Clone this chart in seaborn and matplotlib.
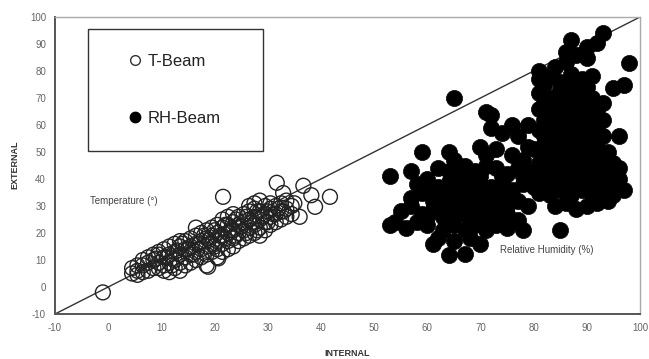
import numpy as np
import pandas as pd
import matplotlib
matplotlib.use("Agg")
import matplotlib.pyplot as plt
from matplotlib.lines import Line2D
import seaborn as sns

# ---------------- data ----------------
t_x = [4.5, 4.5, 5.5, 5.5, 5.5, 6.5, 6.5, 6.5, 7.5, 7.5, 7.5, 8.5, 8.5, 8.5,
       9.5, 9.5, 9.5, 9.5, 10.5, 10.5, 10.5, 10.5, 11.5, 11.5, 11.5, 11.5,
       12.5, 12.5, 12.5, 12.5, 13.5, 13.5, 13.5, 13.5, 13.5, 14.5, 14.5, 14.5, 14.5,
       15.5, 15.5, 15.5, 15.5, 16.5, 16.5, 16.5, 16.5, 16.5, 17.5, 17.5, 17.5, 17.5,
       18.5, 18.5, 18.5, 18.5, 18.5, 19.5, 19.5, 19.5, 19.5,
       20.5, 20.5, 20.5, 20.5, 20.5, 21.5, 21.5, 21.5, 21.5, 21.5,
       22.5, 22.5, 22.5, 22.5, 22.5, 23.5, 23.5, 23.5, 23.5, 23.5,
       24.5, 24.5, 24.5, 24.5, 25.5, 25.5, 25.5, 25.5,
       26.5, 26.5, 26.5, 26.5, 26.5, 27.5, 27.5, 27.5, 27.5, 27.5,
       28.5, 28.5, 28.5, 28.5, 28.5, 29.5, 29.5, 29.5, 29.5,
       30.5, 30.5, 30.5, 30.5, 31.5, 31.5, 31.5, 32.5, 32.5, 32.5,
       33.5, 33.5, 33.5, 34.5, 34.5,
       -1, 31.7, 21.6, 36.7, 38.2, 38.9, 41.7, 36.0, 18.8, 20.7, 32.9, 35.0,
       9, 11, 13, 15, 17, 19, 21, 23, 25, 27, 29, 31, 33,
       12, 16, 20, 22, 24, 26, 28, 30,
       14, 18, 20, 22, 24, 26, 28, 30, 32]
t_y = [5, 7, 6, 8, 4.5, 5.5, 8, 10, 6, 9, 11, 7, 10, 12,
       7, 9, 12, 13, 6, 8, 11, 14, 5.5, 9, 12, 15,
       7, 10, 13, 16, 6, 9, 12, 15, 17, 8, 11, 14, 17,
       9, 12, 15, 18, 10, 13, 16, 19, 22, 11, 14, 17, 20,
       8, 12, 15, 18, 21, 13, 16, 19, 22,
       11, 14, 17, 20, 23, 13, 16, 19, 22, 25,
       14, 17, 20, 23, 26, 15, 18, 21, 24, 27,
       17, 20, 23, 26, 18, 21, 24, 27,
       19, 22, 25, 28, 30, 20, 23, 26, 29, 31,
       19, 22, 25, 28, 32, 21, 24, 27, 30,
       23, 26, 29, 31, 24, 27, 30, 25, 28, 31,
       26, 29, 32, 27, 30,
       -2, 38.6, 33.4, 37.5, 34.0, 29.7, 33.4, 26.0, 7.5, 10.6, 34.8, 31.0,
       10.5, 11, 13.5, 14, 16, 17.5, 19, 21, 22.5, 24, 26, 27, 28,
       8, 12, 15, 18, 19, 20, 21, 24,
       16, 19, 21, 23, 25, 26, 28, 28, 29]

rh_x = [65, 93, 87, 90, 92, 98, 95, 97, 96, 53, 57, 59, 53, 61, 64, 67, 78, 85,
        71, 72, 79, 81, 84, 86,
        72, 74, 77, 76,
        64, 65, 70, 71, 73, 76, 78, 79,
        62, 64, 67, 69, 71, 73, 75, 77, 79,
        58, 60, 62, 64, 66, 68, 70, 72, 74, 76, 78, 80,
        57, 59, 61, 63, 65, 67, 69, 71, 73, 75, 77, 79,
        55, 57, 59, 61, 63, 65, 67, 69, 71, 73, 75, 77,
        54, 56, 58, 60, 63, 65, 67, 69, 71, 73, 75,
        62, 65, 68, 70,
        88, 90, 86,
        81, 83, 85, 87, 89, 91,
        81, 83, 85, 87, 89, 91, 93,
        81, 83, 85, 87, 89, 91, 93,
        81, 83, 85, 87, 89, 91, 93,
        80, 82, 84, 86, 88, 90, 92, 94,
        81, 83, 85, 87, 89, 91, 93, 95,
        80, 82, 84, 86, 88, 90, 92, 94, 96,
        81, 83, 85, 87, 89, 91, 93, 95, 97,
        84, 86, 88, 90, 92, 94,
        82, 86, 88, 90,
        82, 84, 86, 88, 90, 92,
        82, 84, 86, 88, 90, 92,
        82, 84, 86, 88, 90, 92,
        82, 84, 86, 88, 90, 92, 94,
        82, 84, 86, 88, 90, 92, 94, 96,
        82, 84, 86, 88, 90, 92, 94, 96,
        61, 65, 69, 73, 63, 67, 71, 75, 60, 64, 68, 72, 66, 70, 74, 78]
rh_y = [70, 94, 91.5, 89, 90.5, 83, 73.6, 75, 56, 41, 43, 50, 23, 16, 12, 12.2, 21, 21,
        65, 63.7, 60, 80, 81.5, 83.5,
        59, 57, 56, 60,
        50, 47, 52, 49, 51, 49, 47, 52,
        44, 43, 45, 43, 45, 44, 42, 44, 43,
        38, 40, 37, 39, 37, 39, 38, 37, 39, 36, 38, 37,
        33, 35, 32, 34, 32, 34, 31, 33, 31, 33, 32, 30,
        28, 30, 27, 29, 26, 28, 27, 29, 26, 28, 27, 25,
        24, 22, 24, 23, 21, 23, 21, 23, 21, 23, 22,
        18, 17, 18, 16,
        86, 85, 87,
        77, 78, 76, 79, 77, 78,
        72, 70, 73, 71, 72, 70, 68,
        66, 64, 66, 64, 66, 64, 62,
        58, 60, 57, 59, 57, 59, 56,
        51, 53, 51, 53, 51, 53, 51, 50,
        46, 47, 45, 47, 45, 47, 45, 46,
        40, 41, 39, 41, 39, 41, 39, 41, 40,
        35, 34, 36, 34, 36, 34, 36, 34, 36,
        30, 31, 29, 30, 31, 32,
        75, 75, 74, 74,
        68, 68, 69, 68, 67, 66,
        62, 62, 61, 62, 61, 60,
        56, 55, 55, 55, 55, 54,
        49, 48, 49, 48, 49, 48, 47,
        43, 43, 44, 43, 43, 42, 43, 44,
        37, 37, 38, 37, 38, 37, 37, 37,
        35, 35, 35, 35, 30, 30, 30, 30, 26, 25, 25, 25, 41, 41, 41, 41]

x_ticks = list(range(-10, 101, 10))
y_ticks = list(range(-10, 101, 10))
series_names = ["T-Beam", "RH-Beam"]

# ---------------- plot ----------------
sns.set_style("white")
plt.rcParams["font.family"] = ["Liberation Sans", "DejaVu Sans"]
plt.rcParams["axes.unicode_minus"] = False

fig = plt.figure(figsize=(6.49, 3.59), dpi=100)
ax = fig.add_axes([55 / 649, 1 - 314 / 359, 585 / 649, 297 / 359])

ax.axline((0, 0), slope=1, color="#333333", lw=1.0, zorder=1)

sns.scatterplot(x=t_x, y=t_y, ax=ax, marker="o", s=115, color="#222222",
                facecolor="none", edgecolor="#222222", linewidth=1.0, zorder=2)
sns.scatterplot(x=rh_x, y=rh_y, ax=ax, marker="o", s=135, color="black",
                edgecolor="black", linewidth=0.5, zorder=3)

ax.set_xlim(-10, 100)
ax.set_ylim(-10, 100)
ax.set_xticks(x_ticks)
ax.set_yticks(y_ticks)
ax.tick_params(axis="both", labelsize=7, labelcolor="#666666", colors="#666666",
               length=3, width=0.8, direction="out")

for side in ["left", "bottom"]:
    ax.spines[side].set_color("#555555")
    ax.spines[side].set_linewidth(1.4)
for side in ["top", "right"]:
    ax.spines[side].set_color("#aaaaaa")
    ax.spines[side].set_linewidth(1.0)

ax.set_xlabel("")
ax.set_ylabel("")
fig.text(347 / 649, 1 - 353 / 359, "INTERNAL", ha="center", va="center",
         fontsize=6.5, fontweight="bold", color="#333333")
fig.text(15 / 649, 1 - 165 / 359, "EXTERNAL", ha="center", va="center",
         rotation=90, fontsize=6.5, fontweight="bold", color="#333333")

ax.text(-3.4, 32, "Temperature (°)", fontsize=7, color="#444444",
        ha="left", va="center")
ax.text(73.7, 13.7, "Relative Humidity (%)", fontsize=7, color="#444444",
        ha="left", va="center")

handles = [
    Line2D([], [], marker="o", ls="none", markersize=7, markerfacecolor="none",
           markeredgecolor="#333333", markeredgewidth=1.0),
    Line2D([], [], marker="o", ls="none", markersize=7.5, markerfacecolor="black",
           markeredgecolor="black"),
]
x0 = (88 - 55) / 585
y1 = 1 - (29 - 17) / 297
w = (263 - 88) / 585
leg = ax.legend(handles, series_names, loc="upper left",
                bbox_to_anchor=(x0, y1 - 0.4, w, 0.4), mode="expand",
                fontsize=12, frameon=True, fancybox=False, shadow=False,
                borderpad=1.5, labelspacing=2.5, handlelength=2.6,
                handletextpad=-0.5, borderaxespad=0.0)
leg.get_frame().set_edgecolor("#333333")
leg.get_frame().set_linewidth(1.0)
leg.get_frame().set_facecolor("white")
leg.get_frame().set_alpha(1)
for txt in leg.get_texts():
    txt.set_color("#222222")
leg.set_zorder(5)

fig.savefig("out.png", dpi=100)
